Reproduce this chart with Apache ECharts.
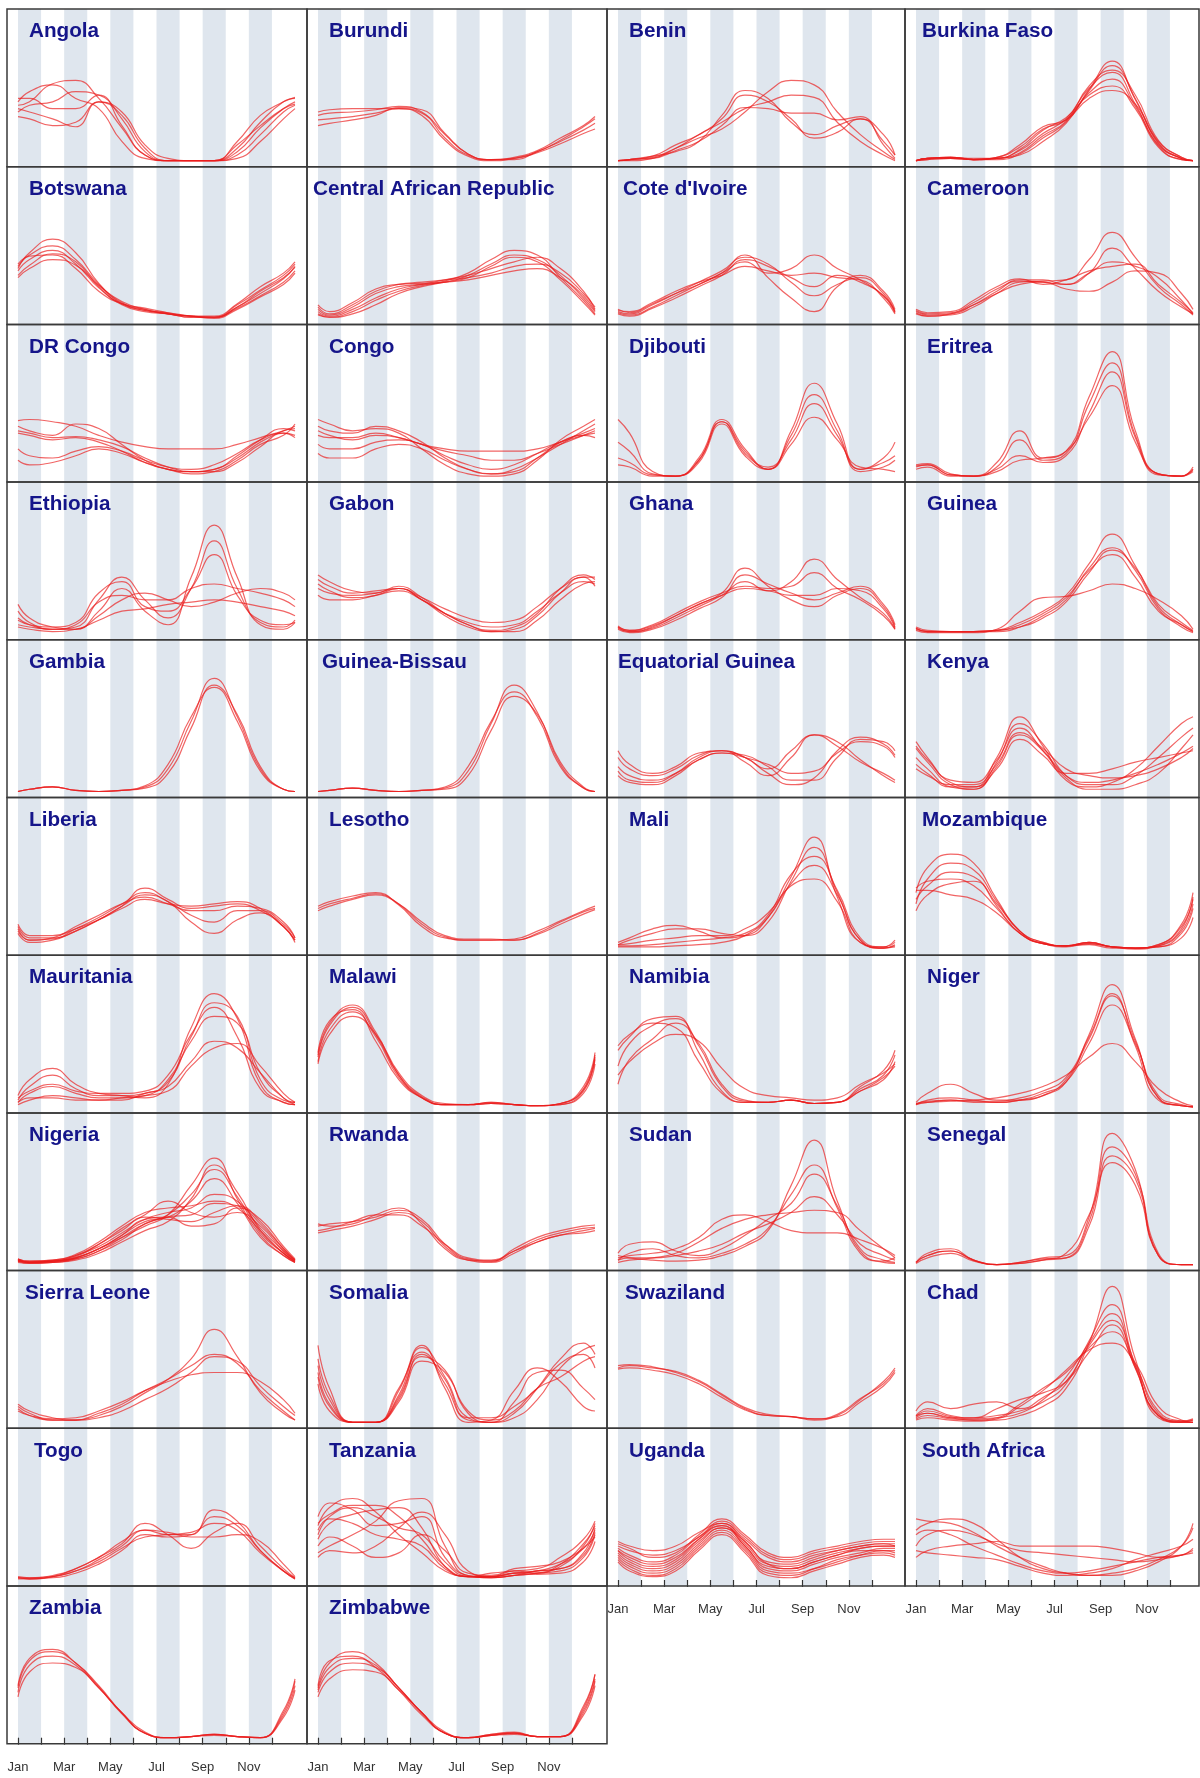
<!DOCTYPE html>
<html lang="en">
<head>
<meta charset="UTF-8">
<title>Seasonality by country</title>
<script src="https://cdn.jsdelivr.net/npm/echarts@6/dist/echarts.min.js"></script>
<style>
  html, body { margin: 0; padding: 0; background: #fff; }
</style>
</head>
<body>
<div id="main" style="width: 1200px;height: 1778px;"></div>
<script type="text/javascript">
// x positions: start of Jan, mid of each month, end of Dec
var monthX = [0, 0.5, 1.5, 2.5, 3.5, 4.5, 5.5, 6.5, 7.5, 8.5, 9.5, 10.5, 11.5, 12];
var monthNames = ['Jan', 'Feb', 'Mar', 'Apr', 'May', 'Jun', 'Jul', 'Aug', 'Sep', 'Oct', 'Nov', 'Dec'];
var tickMonths = [0, 1, 2, 3, 4, 5, 6, 7, 8, 9, 10, 11];
var labelMonths = [0, 2, 4, 6, 8, 10];

var countries = [
  'Angola', 'Burundi', 'Benin', 'Burkina Faso',
  'Botswana', 'Central African Republic', "Cote d'Ivoire", 'Cameroon',
  'DR Congo', 'Congo', 'Djibouti', 'Eritrea',
  'Ethiopia', 'Gabon', 'Ghana', 'Guinea',
  'Gambia', 'Guinea-Bissau', 'Equatorial Guinea', 'Kenya',
  'Liberia', 'Lesotho', 'Mali', 'Mozambique',
  'Mauritania', 'Malawi', 'Namibia', 'Niger',
  'Nigeria', 'Rwanda', 'Sudan', 'Senegal',
  'Sierra Leone', 'Somalia', 'Swaziland', 'Chad',
  'Togo', 'Tanzania', 'Uganda', 'South Africa',
  'Zambia', 'Zimbabwe'
];

// one array of yearly curves per country (relative monthly incidence)
var angola = [
  [49,52,68,71,55,29,5,0,0,0,11,34,52,55],
  [46,43,37,30,52,43,14,2,0,0,5,23,43,49],
  [52,61,67,55,46,17,2,0,0,0,17,40,52,56],
  [43,49,52,61,58,37,8,0,0,0,2,17,37,46],
  [55,55,46,46,58,31,5,0,0,0,8,29,46,52],
  [39,37,31,34,52,40,11,0,0,0,14,31,46,50]
];
var burundi = [
  [40,42,43,45,48,43,23,6,1,1,8,17,27,33],
  [36,37,39,42,46,42,20,5,1,3,9,20,31,39],
  [31,33,36,40,47,45,24,6,1,2,7,15,24,28],
  [43,45,46,46,46,40,18,4,0,2,8,18,30,37]
];
var benin = [
  [0,1,4,8,17,40,62,55,34,23,31,37,17,5],
  [0,1,3,11,20,28,43,61,71,67,43,23,8,1],
  [0,0,2,11,23,34,46,52,58,56,34,17,5,0],
  [0,1,2,9,17,31,47,46,42,42,36,39,14,2],
  [0,1,4,14,23,37,58,52,37,20,25,37,23,5]
];
var burkinaFaso = [
  [0,2,3,1,2,5,17,33,62,84,55,15,2,0],
  [0,2,3,1,2,9,24,37,64,78,50,13,1,0],
  [0,2,2,1,3,12,28,36,60,72,48,14,2,0],
  [0,1,2,1,2,7,22,35,66,80,58,18,3,0],
  [0,2,3,2,2,10,27,38,58,66,46,12,1,0],
  [0,1,2,1,1,6,20,34,63,88,54,16,2,0],
  [0,2,3,1,3,14,30,36,55,62,50,17,3,0]
];
var botswana = [
  [42,52,60,48,27,13,8,4,2,1,10,22,35,46],
  [46,56,64,52,30,14,7,5,2,1,12,25,38,48],
  [38,47,57,50,28,12,6,4,1,1,9,20,32,42],
  [48,55,56,44,24,13,9,5,2,2,13,28,40,50],
  [36,44,52,47,29,15,8,4,2,0,8,19,30,40],
  [44,58,70,58,31,13,7,4,1,1,10,24,36,45]
];
var centralAfricanRepublic = [
  [8,3,10,22,28,30,32,38,48,56,52,38,18,6],
  [4,1,6,16,24,29,33,40,52,60,56,36,16,4],
  [10,4,12,24,30,32,34,36,40,46,48,40,22,10],
  [6,2,8,18,26,30,34,38,44,50,54,44,24,8],
  [12,6,14,26,30,31,32,34,38,42,44,36,20,7],
  [3,1,4,12,22,28,32,36,46,54,50,34,14,3]
];
var coteDIvoire = [
  [6,4,12,22,32,42,54,48,32,20,30,36,22,6],
  [8,5,13,22,30,40,50,40,44,56,44,34,20,5],
  [5,3,10,20,30,40,56,36,18,6,28,38,24,8],
  [7,6,14,24,32,38,46,42,38,40,36,34,18,4],
  [4,2,9,18,28,38,52,46,36,28,38,32,20,6]
];
var cameroon = [
  [6,3,4,12,24,34,34,30,40,50,46,36,16,4],
  [5,2,3,10,22,32,33,34,52,76,54,28,12,3],
  [7,4,5,14,26,33,32,30,40,62,44,24,10,4],
  [4,2,4,12,22,30,32,26,24,32,42,40,22,8],
  [8,5,6,16,28,35,30,34,42,46,48,30,14,5]
];
var drCongo = [
  [49,50,48,44,36,30,26,24,24,24,28,34,40,44],
  [38,36,32,34,30,22,12,6,4,6,16,30,40,42],
  [44,40,36,46,42,28,14,6,4,6,18,32,42,40],
  [24,18,16,22,26,22,14,8,6,10,20,32,38,36],
  [14,10,12,18,24,20,12,6,2,4,14,28,36,46],
  [40,38,34,35,32,26,16,8,4,4,12,26,38,34]
];
var congo = [
  [50,46,40,42,38,24,10,2,0,2,14,32,44,50],
  [44,40,38,44,40,30,16,6,2,4,16,30,38,42],
  [36,34,34,38,34,28,22,18,14,14,20,28,36,40],
  [28,24,24,30,32,28,18,10,6,10,20,30,36,34],
  [20,16,16,24,28,24,14,6,2,6,16,28,40,46],
  [40,36,32,36,34,28,24,22,22,22,24,30,36,38]
];
var djibouti = [
  [50,38,4,0,14,48,22,6,40,82,46,6,16,30],
  [30,22,2,0,16,50,24,6,36,72,40,4,8,14],
  [16,12,1,0,14,48,20,8,32,64,36,6,12,18],
  [10,8,0,0,12,46,18,6,28,52,32,8,6,4]
];
var eritrea = [
  [10,11,2,0,12,40,16,22,70,110,40,2,0,8],
  [8,10,1,0,8,32,14,20,64,100,36,2,0,6],
  [6,8,0,0,6,18,12,18,56,92,34,1,0,6],
  [9,10,1,0,4,14,16,22,52,80,30,2,0,4]
];
var ethiopia = [
  [26,14,6,4,20,40,20,8,50,96,50,8,4,10],
  [20,10,4,6,30,50,30,14,40,82,40,10,6,12],
  [12,8,6,10,36,46,24,20,40,70,34,12,8,10],
  [8,6,4,8,28,34,30,30,40,44,40,36,30,24],
  [14,8,4,4,16,30,36,30,24,28,36,40,36,30],
  [6,4,2,4,12,20,22,26,28,30,28,24,20,16]
];
var gabon = [
  [52,46,38,36,42,32,18,8,3,6,18,40,52,48],
  [48,42,36,38,40,30,16,6,2,4,16,36,50,50],
  [40,36,34,36,40,30,18,10,6,8,20,36,46,44],
  [34,30,30,34,38,30,18,8,2,2,12,30,44,46],
  [44,38,32,34,40,32,22,14,10,12,24,40,50,42]
];
var ghana = [
  [6,2,6,16,26,36,58,42,30,24,34,40,24,6],
  [5,2,5,14,24,34,46,38,46,66,48,32,18,4],
  [7,3,7,16,26,34,40,38,34,34,40,38,22,5],
  [4,1,4,12,22,32,52,44,36,30,36,42,26,8],
  [6,3,8,18,28,36,42,40,42,54,40,30,16,4]
];
var guinea = [
  [5,2,2,2,3,10,20,34,62,88,60,24,8,2],
  [4,2,2,2,2,6,16,30,58,76,56,22,6,1],
  [6,3,2,2,3,8,18,32,56,70,50,20,8,2],
  [3,1,1,1,4,20,32,33,38,44,40,30,16,4],
  [5,2,2,2,3,6,14,28,54,74,58,26,10,3]
];
var gambia = [
  [0,2,4,1,0,1,4,20,62,100,66,20,2,0],
  [0,2,4,1,0,1,3,16,56,94,68,22,2,0],
  [0,2,4,1,0,1,5,24,66,92,62,18,2,0]
];
var guineaBissau = [
  [0,1,3,1,0,1,3,18,60,94,70,24,3,0],
  [0,1,3,1,0,1,4,22,62,88,66,22,3,0],
  [0,1,3,1,0,1,2,14,54,84,68,26,4,0]
];
var equatorialGuinea = [
  [36,24,16,22,34,36,26,14,30,50,44,28,14,8],
  [30,20,14,20,32,36,30,20,36,50,40,26,16,10],
  [18,10,8,16,30,36,30,16,6,12,36,48,42,32],
  [14,8,6,14,28,34,32,22,10,10,30,46,44,36],
  [22,14,10,16,28,34,30,24,16,18,34,44,40,30]
];
var kenya = [
  [44,30,8,4,30,66,40,10,4,8,20,40,60,66],
  [38,26,6,2,26,60,42,14,6,6,14,30,48,56],
  [30,20,4,2,22,50,36,14,8,10,16,24,34,40],
  [24,16,4,4,20,46,32,16,16,20,26,30,34,36],
  [20,14,6,6,24,52,38,20,14,12,14,20,30,38],
  [40,28,10,8,28,56,36,12,2,2,6,16,38,50]
];
var liberia = [
  [20,10,10,16,26,38,54,44,36,38,40,34,20,8],
  [18,8,9,18,28,40,50,42,30,24,34,34,22,10],
  [22,12,12,18,26,36,44,40,38,40,42,36,20,8],
  [14,6,8,16,26,38,48,42,24,14,26,32,20,6],
  [16,8,10,20,30,40,46,40,34,34,38,36,24,10]
];
var lesotho = [
  [36,40,45,49,40,22,11,8,8,8,14,24,33,36],
  [34,38,44,48,40,24,12,9,9,8,13,22,31,35],
  [38,42,47,50,39,20,10,8,8,9,16,25,34,38]
];
var mali = [
  [6,10,18,21,16,10,12,28,64,99,46,6,2,6],
  [4,8,14,18,18,14,12,24,60,90,50,8,1,4],
  [3,3,4,6,8,10,14,30,66,82,52,10,2,8],
  [2,2,2,3,4,6,12,28,58,74,48,8,1,2],
  [4,5,8,10,12,12,18,32,56,62,42,6,1,3]
];
var mozambique = [
  [50,72,84,76,44,16,5,3,6,2,1,4,22,50],
  [40,62,76,70,42,16,6,3,6,2,1,3,16,40],
  [54,60,62,56,36,14,5,3,5,2,1,2,14,36],
  [34,48,58,60,40,16,6,3,6,2,1,4,20,44],
  [52,52,48,44,32,14,5,3,4,1,1,2,10,28],
  [44,56,68,64,38,14,5,2,5,2,0,3,18,46]
];
var mauritania = [
  [10,24,34,20,12,10,8,20,70,100,78,20,4,2],
  [6,18,28,16,10,10,12,22,62,92,80,24,6,4],
  [4,12,18,12,8,8,10,24,58,80,74,30,8,4],
  [2,6,10,8,6,6,12,18,40,58,52,30,8,2],
  [8,14,20,14,12,12,14,28,64,88,62,16,4,2],
  [4,8,8,6,6,8,10,14,36,52,56,36,12,4]
];
var malawi = [
  [44,72,88,64,28,9,2,2,3,2,1,3,16,46],
  [40,68,84,62,26,8,2,2,3,2,1,2,14,42],
  [48,76,86,58,24,8,2,2,4,2,1,3,18,48],
  [38,64,80,64,30,10,3,2,3,2,1,2,12,38],
  [46,74,90,66,28,8,2,2,4,2,1,3,15,44]
];
var namibia = [
  [50,62,78,80,48,14,4,4,6,3,4,16,28,46],
  [36,56,72,78,54,18,5,4,6,3,4,14,24,40],
  [20,42,60,74,56,20,6,4,6,3,4,18,32,50],
  [54,64,74,70,40,12,4,4,6,3,4,14,26,36],
  [28,40,56,64,58,34,16,10,8,6,8,20,30,38]
];
var niger = [
  [4,12,20,12,6,6,10,22,64,108,60,8,1,0],
  [2,6,8,6,4,6,10,24,60,98,58,8,1,0],
  [3,4,6,4,4,6,12,22,56,90,56,10,2,0],
  [2,4,5,6,8,12,18,28,44,56,40,16,4,1],
  [3,5,6,5,5,8,14,26,62,100,54,6,1,0]
];
var nigeria = [
  [4,2,3,6,14,24,34,44,70,94,58,26,8,2],
  [3,2,2,5,12,22,36,44,62,84,60,28,10,3],
  [5,3,4,8,16,28,40,46,50,62,56,32,12,4],
  [4,2,3,7,18,30,42,40,38,46,52,38,14,4],
  [3,1,2,6,14,26,40,42,34,36,50,40,16,5],
  [5,2,3,8,18,32,44,56,46,42,46,34,12,3],
  [4,2,3,6,14,26,38,42,56,76,54,24,8,2],
  [3,2,3,5,12,24,36,42,44,54,52,36,14,4],
  [2,1,2,4,10,20,30,38,58,88,64,30,10,2],
  [5,3,4,9,20,34,46,50,52,56,50,30,10,3]
];
var rwanda = [
  [34,36,38,42,48,40,18,5,3,12,22,28,32,33],
  [28,30,34,40,46,38,16,4,2,10,20,26,30,32],
  [36,34,36,44,50,36,14,4,3,14,24,30,34,35],
  [30,32,38,44,44,34,18,6,4,12,20,26,28,30]
];
var sudan = [
  [8,6,4,3,4,8,16,30,70,110,56,14,4,2],
  [4,10,14,8,6,10,18,32,62,88,50,10,2,1],
  [10,18,20,12,8,14,26,40,54,80,52,12,3,6],
  [2,4,6,10,20,32,40,44,46,48,46,30,14,6],
  [6,8,10,14,24,40,44,38,30,28,28,22,14,8],
  [4,6,6,8,12,18,28,36,46,60,44,18,8,4]
];
var senegal = [
  [2,10,14,4,0,2,6,8,42,116,84,8,0,0],
  [2,8,12,4,0,1,4,6,38,104,80,10,0,0],
  [1,6,10,3,0,2,5,6,34,96,76,8,0,0],
  [2,8,12,4,0,1,4,10,44,90,70,8,0,0]
];
var sierraLeone = [
  [14,8,2,2,6,14,26,38,56,82,58,26,8,2],
  [12,6,2,2,8,16,28,38,50,60,52,28,10,2],
  [10,6,3,4,10,18,28,36,42,44,44,36,20,8],
  [16,10,4,2,4,10,20,30,44,58,54,32,14,6]
];
var somalia = [
  [68,30,0,0,24,66,40,4,0,8,30,56,70,60],
  [50,20,0,0,30,62,34,2,0,18,44,46,30,20],
  [40,14,0,0,20,58,46,8,0,4,20,48,64,68],
  [56,24,0,0,28,68,30,0,2,28,48,36,14,10],
  [44,16,0,0,18,54,44,10,2,10,30,40,54,58],
  [34,10,0,0,22,60,38,4,4,14,30,52,60,48]
];
var swaziland = [
  [50,51,49,44,36,24,12,6,5,2,6,20,36,48],
  [48,50,48,45,37,25,13,7,5,3,7,21,34,46],
  [47,48,46,42,34,22,11,6,5,3,5,18,32,44]
];
var chad = [
  [4,8,4,2,2,6,14,30,70,120,56,4,0,0],
  [6,12,6,4,6,10,18,34,72,104,50,6,0,2],
  [10,18,12,16,18,12,22,36,68,90,52,8,1,2],
  [3,6,3,2,4,16,30,44,66,80,50,10,1,0],
  [5,10,5,3,4,8,20,40,70,96,48,6,0,0],
  [2,4,2,1,3,14,28,46,64,70,52,14,2,0],
  [6,8,4,4,12,20,26,36,62,86,48,6,1,3]
];
var togo = [
  [2,1,3,10,20,32,50,40,28,42,50,30,10,2],
  [2,1,3,8,18,30,44,40,40,62,52,26,8,1],
  [1,1,2,6,14,26,40,38,40,56,48,26,8,1],
  [2,2,4,10,20,34,44,42,38,38,40,34,14,3],
  [3,2,3,8,16,28,38,40,42,50,44,24,8,2]
];
var tanzania = [
  [48,64,72,60,40,24,8,3,2,4,6,8,20,40],
  [36,50,58,62,64,46,12,3,3,6,8,10,24,46],
  [56,68,62,48,50,56,20,4,2,4,6,12,30,50],
  [24,30,40,52,70,72,30,4,3,8,6,14,32,48],
  [44,54,50,40,36,30,10,3,6,8,10,20,36,52],
  [30,38,30,20,24,40,26,6,4,10,12,16,28,38],
  [50,58,66,66,56,36,12,3,3,6,5,6,16,34],
  [40,56,64,56,46,40,16,3,2,4,8,10,22,42],
  [20,26,24,30,46,60,40,8,3,6,8,14,28,44]
];
var uganda = [
  [34,30,26,30,42,50,36,20,16,22,26,30,32,32],
  [28,22,16,22,38,48,32,14,12,18,24,28,30,30],
  [24,16,10,16,34,46,30,10,8,14,20,24,28,28],
  [20,12,6,12,30,44,28,8,6,10,16,22,26,26],
  [30,26,22,26,38,52,38,22,18,24,28,32,34,34],
  [22,14,8,14,32,46,34,14,10,16,22,26,26,24],
  [26,20,14,20,36,48,30,12,10,16,22,28,30,30],
  [18,10,4,10,28,42,26,6,4,10,18,22,24,22],
  [32,28,20,24,40,54,40,24,20,26,30,34,36,36],
  [16,8,3,8,26,40,24,4,2,8,14,20,22,20],
  [26,18,12,18,36,50,34,16,14,20,26,30,32,30]
];
var southAfrica = [
  [54,52,50,42,30,20,12,6,4,4,8,16,30,50],
  [44,50,54,50,36,20,10,6,4,6,10,18,30,46],
  [30,40,44,40,32,26,24,22,20,18,16,18,22,26],
  [20,26,30,32,34,30,30,30,30,28,24,20,22,28],
  [40,44,40,30,22,14,8,6,8,12,16,20,22,24],
  [26,24,22,20,18,12,6,4,6,10,18,24,30,36]
];
var zambia = [
  [44,68,76,66,46,22,4,0,1,3,1,0,22,50],
  [40,64,72,64,44,22,4,0,1,3,1,0,20,46],
  [46,70,78,66,45,21,4,0,1,2,1,0,24,52],
  [36,58,66,62,44,22,5,0,1,3,1,0,18,42]
];
var zimbabwe = [
  [44,66,76,66,44,22,4,0,3,4,1,1,26,56],
  [40,58,66,62,44,22,4,0,2,3,1,1,24,52],
  [36,52,60,58,42,22,4,0,2,4,1,1,22,50],
  [46,68,72,62,42,20,4,0,3,5,1,1,28,56],
  [42,62,70,64,44,22,5,0,2,4,1,1,20,46]
];

var curves = [
  angola, burundi, benin, burkinaFaso,
  botswana, centralAfricanRepublic, coteDIvoire, cameroon,
  drCongo, congo, djibouti, eritrea,
  ethiopia, gabon, ghana, guinea,
  gambia, guineaBissau, equatorialGuinea, kenya,
  liberia, lesotho, mali, mozambique,
  mauritania, malawi, namibia, niger,
  nigeria, rwanda, sudan, senegal,
  sierraLeone, somalia, swaziland, chad,
  togo, tanzania, uganda, southAfrica,
  zambia, zimbabwe
];

// layout
var colLeft = [7, 307, 607, 905];
var colRight = [307, 607, 905, 1199];
var rowTop0 = 9, rowH = 157.7;
var axisPanels = [38, 39, 40, 41];
var titleIndent = {
  'Burkina Faso': 17, 'Central African Republic': 6, "Cote d'Ivoire": 16,
  'Guinea-Bissau': 15, 'Equatorial Guinea': 11, 'Mozambique': 17,
  'Sierra Leone': 18, 'Swaziland': 18, 'Togo': 27, 'South Africa': 17
};
var font = 'Liberation Sans, Arial, Helvetica, sans-serif';
var bandColor = '#dfe6ee';
var lineColor = 'rgba(234, 28, 28, 0.68)';
var frameColor = '#3a3a3a';

var myChart = echarts.init(document.getElementById('main'));
var grid = [], xAxis = [], yAxis = [], series = [], title = [], graphic = [];

countries.forEach(function (name, i) {
  var r = Math.floor(i / 4), c = i % 4;
  var top = rowTop0 + r * rowH;
  var left = colLeft[c];
  var withAxis = axisPanels.indexOf(i) >= 0;

  grid.push({ left: left + 11, top: top, width: 277, height: rowH });

  xAxis.push({
    gridIndex: i, type: 'value', min: 0, max: 12, interval: 1,
    splitLine: { show: false },
    splitArea: { show: true, areaStyle: { color: [bandColor, 'rgba(255,255,255,0)'] } },
    axisLine: { show: false },
    axisTick: {
      show: withAxis, customValues: tickMonths, length: 7, inside: false,
      lineStyle: { color: '#333', width: 1.2 }
    },
    axisLabel: {
      show: withAxis, customValues: labelMonths, margin: 17,
      formatter: function (v) { return monthNames[Math.round(v)]; },
      color: '#333', fontSize: 13, fontFamily: font
    }
  });
  yAxis.push({ gridIndex: i, type: 'value', min: -5.3, max: 134, show: false });

  curves[i].forEach(function (line) {
    series.push({
      type: 'line', xAxisIndex: i, yAxisIndex: i,
      data: monthX.map(function (x, k) { return [x, line[k]]; }),
      smooth: 0.5, symbol: 'none', silent: true,
      lineStyle: { color: lineColor, width: 1.2 }
    });
  });

  title.push({
    text: name,
    left: left + (titleIndent[name] !== undefined ? titleIndent[name] : 22),
    top: top + 12, padding: 0,
    textStyle: { color: '#15158a', fontSize: 20.7, fontWeight: 'bold', fontFamily: font }
  });

  graphic.push({
    type: 'rect', z: 100, silent: true,
    shape: { x: left, y: top, width: colRight[c] - left, height: rowH },
    style: { fill: null, stroke: frameColor, lineWidth: 1.5 }
  });
});

myChart.setOption({
  animation: false,
  backgroundColor: '#fff',
  title: title,
  grid: grid,
  xAxis: xAxis,
  yAxis: yAxis,
  series: series,
  graphic: graphic
});
</script>
</body>
</html>
